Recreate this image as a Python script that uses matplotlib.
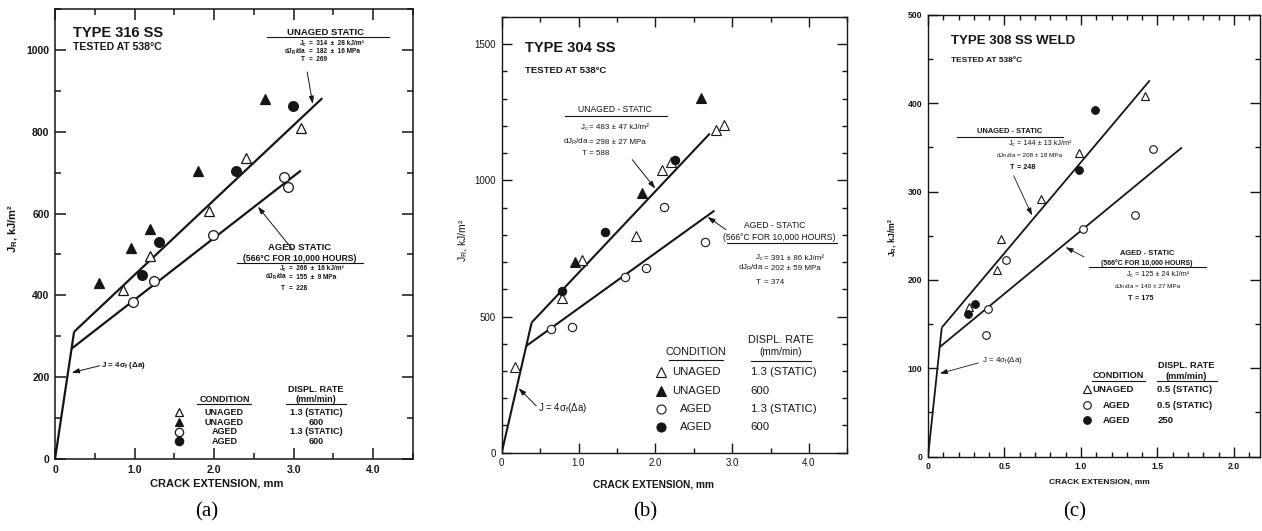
import matplotlib
matplotlib.use('Agg')
import matplotlib.pyplot as plt
from matplotlib.ticker import MultipleLocator, FixedLocator, FixedFormatter

plt.rcParams.update({
    'font.family': ['Liberation Sans', 'DejaVu Sans'],
    'mathtext.fontset': 'custom',
    'mathtext.rm': 'Liberation Sans:bold',
    'mathtext.it': 'Liberation Sans:bold',
    'mathtext.bf': 'Liberation Sans:bold',
    'mathtext.default': 'regular',
})

# ---------------- data: panel (a) Type 316 SS ----------------
a_unaged_static_x = [0.85, 1.19, 1.94, 2.40, 3.09]
a_unaged_static_y = [412, 497, 605, 736, 808]
a_unaged_600_x = [0.55, 0.95, 1.19, 1.80, 2.64]
a_unaged_600_y = [430, 516, 563, 705, 879]
a_aged_static_x = [0.98, 1.24, 1.99, 2.88, 2.93]
a_aged_static_y = [383, 434, 548, 689, 666]
a_aged_600_x = [1.09, 1.31, 2.27, 2.99]
a_aged_600_y = [451, 531, 704, 863]
a_blunt_x = [0.0, 0.24]
a_blunt_y = [0, 311]
a_unaged_fit_x = [0.24, 3.36]
a_unaged_fit_y = [311, 882]
a_aged_fit_x = [0.21, 3.09]
a_aged_fit_y = [270, 705]

# ---------------- data: panel (b) Type 304 SS ----------------
b_unaged_static_x = [0.17, 0.79, 1.04, 1.75, 2.09, 2.20, 2.79, 2.89]
b_unaged_static_y = [316, 568, 706, 797, 1039, 1068, 1186, 1202]
b_unaged_600_x = [0.95, 1.83, 2.60]
b_unaged_600_y = [702, 954, 1303]
b_aged_static_x = [0.64, 0.91, 1.61, 1.88, 2.11, 2.65]
b_aged_static_y = [453, 460, 647, 680, 904, 773]
b_aged_600_x = [0.78, 1.35, 2.25]
b_aged_600_y = [592, 812, 1076]
b_blunt_x = [0.0, 0.39]
b_blunt_y = [0, 478]
b_unaged_fit_x = [0.39, 2.71]
b_unaged_fit_y = [478, 1172]
b_aged_fit_x = [0.32, 2.77]
b_aged_fit_y = [392, 889]

# ---------------- data: panel (c) Type 308 SS weld ----------------
c_unaged_static_x = [0.27, 0.45, 0.48, 0.74, 0.99, 1.42]
c_unaged_static_y = [169, 211, 246, 292, 344, 408]
c_aged_static_x = [0.38, 0.39, 0.51, 1.01, 1.35, 1.47]
c_aged_static_y = [138, 167, 222, 258, 273, 348]
c_aged_250_x = [0.26, 0.31, 0.99, 1.09]
c_aged_250_y = [161, 173, 325, 392]
c_blunt_x = [0.0, 0.09]
c_blunt_y = [0, 146]
c_unaged_fit_x = [0.09, 1.45]
c_unaged_fit_y = [146, 426]
c_aged_fit_x = [0.077, 1.66]
c_aged_fit_y = [124, 350]

# tick labels
a_xticks = [0, 1, 2, 3, 4]
a_xticklabels = ['0', '1.0', '2.0', '3.0', '4.0']
a_yticks = [0, 200, 400, 600, 800, 1000]
b_xticks = [0, 1, 2, 3, 4]
b_xticklabels = ['0', '1.0', '2.0', '3.0', '4.0']
b_yticks = [0, 500, 1000, 1500]
c_xticks = [0, 0.5, 1.0, 1.5, 2.0]
c_xticklabels = ['0', '0.5', '1.0', '1.5', '2.0']
c_yticks = [0, 100, 200, 300, 400, 500]

INK = '#151515'
W, H = 1262, 531
fig = plt.figure(figsize=(W / 100, H / 100), dpi=100)


def add_axes(l, r, b, t):
    return fig.add_axes([l / W, 1 - b / H, (r - l) / W, (b - t) / H])


def style(ax, xlim, ylim, xt, xtl, xminor, yt, yminor, fs, weight, maj, mnr, lw):
    ax.set_xlim(*xlim)
    ax.set_ylim(*ylim)
    ax.xaxis.set_major_locator(FixedLocator(xt))
    ax.xaxis.set_major_formatter(FixedFormatter(xtl))
    ax.xaxis.set_minor_locator(MultipleLocator(xminor))
    ax.yaxis.set_major_locator(FixedLocator(yt))
    ax.yaxis.set_minor_locator(MultipleLocator(yminor))
    ax.tick_params(which='both', direction='in', top=True, right=True, colors=INK,
                   labelsize=fs, width=lw, pad=4)
    ax.tick_params(which='major', length=maj)
    ax.tick_params(which='minor', length=mnr)
    for lab in ax.get_xticklabels() + ax.get_yticklabels():
        lab.set_fontweight(weight)
    for s in ax.spines.values():
        s.set_linewidth(lw)
        s.set_color(INK)


def line(ax, x, y, lw):
    ax.plot(x, y, color=INK, lw=lw, solid_capstyle='butt', zorder=2)


def pts(ax, x, y, marker, filled, ms, mew=0.9):
    ax.plot(x, y, ls='none', marker=marker, ms=ms, mew=mew,
            mfc=INK if filled else 'white', mec=INK, zorder=3, clip_on=False)


def eq(ax, x, y, lhs, rhs, fs, weight='bold', sep=' '):
    ax.text(x, y, lhs + sep, ha='right', va='center', fontsize=fs, fontweight=weight, color=INK)
    ax.text(x, y, '=' + sep + rhs, ha='left', va='center', fontsize=fs, fontweight=weight, color=INK)


def uline(ax, x0, x1, y, lw=0.8):
    ax.plot([x0, x1], [y, y], color=INK, lw=lw, clip_on=False, zorder=2)


def arrow(ax, head, tail, lw=0.7):
    ax.annotate('', xy=head, xytext=tail,
                arrowprops=dict(arrowstyle='-|>,head_length=0.45,head_width=0.15',
                                lw=lw, color=INK, shrinkA=0, shrinkB=0))


def txt(ax, x, y, s, fs, weight='bold', ha='center', **kw):
    ax.text(x, y, s, ha=ha, va='center', fontsize=fs, fontweight=weight, color=INK, **kw)


# ======================= panel (a) =======================
axA = add_axes(55, 413, 459, 9)
style(axA, (0, 4.5), (0, 1100), a_xticks, a_xticklabels, 0.5, a_yticks, 100,
      7.5, 'bold', 8, 4.5, 1.1)
line(axA, a_blunt_x, a_blunt_y, 1.6)
line(axA, a_unaged_fit_x, a_unaged_fit_y, 1.6)
line(axA, a_aged_fit_x, a_aged_fit_y, 1.6)
pts(axA, a_unaged_static_x, a_unaged_static_y, '^', False, 7)
pts(axA, a_unaged_600_x, a_unaged_600_y, '^', True, 7)
pts(axA, a_aged_static_x, a_aged_static_y, 'o', False, 7)
pts(axA, a_aged_600_x, a_aged_600_y, 'o', True, 7)

txt(axA, 0.22, 1041, 'TYPE 316 SS', 10.5, ha='left')
txt(axA, 0.22, 1006, 'TESTED AT 538°C', 7.5, ha='left')

txt(axA, 3.40, 1042, 'UNAGED STATIC', 6.8)
uline(axA, 2.66, 4.2, 1031)
eq(axA, 3.19, 1015, 'J$_c$', '314  ±  28 kJ/m²', 4.7, sep='  ')
eq(axA, 3.19, 995, 'dJ$_R$/da', '182  ±  16 MPa', 4.7, sep='  ')
eq(axA, 3.19, 976, 'T', '269', 4.7, sep='  ')
arrow(axA, (3.24, 868), (3.17, 946))

txt(axA, 3.07, 518, 'AGED STATIC', 6.8)
txt(axA, 3.07, 490, '(566°C FOR 10,000 HOURS)', 6.2)
uline(axA, 2.29, 3.87, 478)
eq(axA, 2.94, 465, 'J$_c$', '266  ±  16 kJ/m²', 4.7, sep='  ')
eq(axA, 2.94, 444, 'dJ$_R$/da', '155  ±  9 MPa', 4.7, sep='  ')
eq(axA, 2.94, 416, 'T', '228', 4.7, sep='  ')
arrow(axA, (2.55, 617), (2.99, 511))

txt(axA, 0.58, 228, 'J = 4σ$_f$ (Δa)', 5.8, ha='left')
arrow(axA, (0.21, 211), (0.56, 228))

# legend (a)
txt(axA, 2.13, 145, 'CONDITION', 6.5)
uline(axA, 1.79, 2.46, 135)
txt(axA, 3.28, 169, 'DISPL. RATE', 6.5)
txt(axA, 3.28, 145, '(mm/min)', 6.5)
uline(axA, 2.90, 3.66, 135)
a_leg_rows = [(114, '^', False, 'UNAGED', '1.3 (STATIC)'),
              (90, '^', True, 'UNAGED', '600'),
              (66, 'o', False, 'AGED', '1.3 (STATIC)'),
              (43, 'o', True, 'AGED', '600')]
for yv, mk, fl, cond, rate in a_leg_rows:
    pts(axA, [1.56], [yv], mk, fl, 6)
    txt(axA, 2.13, yv, cond, 6.5)
    txt(axA, 3.28, yv, rate, 6.5)

axA.set_xlabel('CRACK EXTENSION, mm', fontsize=8, fontweight='bold', color=INK)
axA.xaxis.set_label_coords(0.452, -0.054, transform=axA.transAxes)
axA.xaxis.label.set_va('center')
axA.set_ylabel('J$_R$, kJ/m²', fontsize=8, fontweight='bold', color=INK)
axA.yaxis.set_label_coords(-0.116, 0.513, transform=axA.transAxes)
axA.yaxis.label.set_va('center')

# ======================= panel (b) =======================
axB = add_axes(501.7, 847.3, 452.7, 17)
style(axB, (0, 4.5), (0, 1600), b_xticks, b_xticklabels, 0.5, b_yticks, 100,
      7, 'normal', 7, 3.5, 1.0)
line(axB, b_blunt_x, b_blunt_y, 1.5)
line(axB, b_unaged_fit_x, b_unaged_fit_y, 1.5)
line(axB, b_aged_fit_x, b_aged_fit_y, 1.5)
pts(axB, b_unaged_static_x, b_unaged_static_y, '^', False, 6.5, 0.8)
pts(axB, b_unaged_600_x, b_unaged_600_y, '^', True, 6.5, 0.8)
pts(axB, b_aged_static_x, b_aged_static_y, 'o', False, 6, 0.8)
pts(axB, b_aged_600_x, b_aged_600_y, 'o', True, 6, 0.8)

txt(axB, 0.305, 1485, 'TYPE 304 SS', 10.5, ha='left')
txt(axB, 0.305, 1405, 'TESTED AT 538°C', 6.8, ha='left')

txt(axB, 1.48, 1259, 'UNAGED - STATIC', 6.2, weight='normal')
uline(axB, 0.83, 2.15, 1238)
eq(axB, 1.14, 1193, 'J$_c$', '483 ± 47 kJ/m²', 5.8, 'normal')
eq(axB, 1.14, 1140, 'dJ$_R$/da', '298 ± 27 MPa', 5.8, 'normal')
eq(axB, 1.14, 1097, 'T', '588', 5.8, 'normal')
arrow(axB, (2.0, 970), (1.70, 1076))

txt(axB, 3.55, 833, 'AGED - STATIC', 6.2, weight='normal')
txt(axB, 3.61, 790, '(566°C FOR 10,000 HOURS)', 6.2, weight='normal')
uline(axB, 2.93, 4.37, 769)
eq(axB, 3.41, 714, 'J$_c$', '391 ± 86 kJ/m²', 5.8, 'normal')
eq(axB, 3.41, 677, 'dJ$_R$/da', '202 ± 59 MPa', 5.8, 'normal')
eq(axB, 3.41, 626, 'T', '374', 5.8, 'normal')
arrow(axB, (2.68, 866), (2.92, 819))

txt(axB, 0.47, 165, 'J = 4σ$_f$(Δa)', 7, weight='normal', ha='left')
arrow(axB, (0.22, 237), (0.45, 172))

# legend (b)
txt(axB, 2.53, 371, 'CONDITION', 7.8, weight='normal')
uline(axB, 2.18, 2.88, 341)
txt(axB, 3.63, 414, 'DISPL. RATE', 7.8, weight='normal')
txt(axB, 3.63, 368, '(mm/min)', 7.2, weight='normal')
uline(axB, 3.24, 4.03, 337)
b_leg_rows = [(296, '^', False, 'UNAGED', '1.3 (STATIC)'),
              (228, '^', True, 'UNAGED', '600'),
              (161, 'o', False, 'AGED', '1.3 (STATIC)'),
              (96, 'o', True, 'AGED', '600')]
for yv, mk, fl, cond, rate in b_leg_rows:
    pts(axB, [2.07], [yv], mk, fl, 6.5, 0.8)
    txt(axB, 2.53, yv, cond, 8.2, weight='normal')
    txt(axB, 3.24, yv, rate, 8.2, weight='normal', ha='left')

axB.set_xlabel('CRACK EXTENSION, mm', fontsize=7.3, fontweight='bold', color=INK)
axB.xaxis.set_label_coords(0.439, -0.074, transform=axB.transAxes)
axB.xaxis.label.set_va('center')
axB.set_ylabel('J$_R$, kJ/m²', fontsize=7.5, fontweight='normal', color=INK)
axB.yaxis.set_label_coords(-0.111, 0.488, transform=axB.transAxes)
axB.yaxis.label.set_va('center')

# ======================= panel (c) =======================
axC = add_axes(928, 1260, 456.5, 15)
style(axC, (0, 2.17), (0, 500), c_xticks, c_xticklabels, 0.1, c_yticks, 50,
      6.2, 'bold', 7, 3.5, 1.0)
line(axC, c_blunt_x, c_blunt_y, 1.3)
line(axC, c_unaged_fit_x, c_unaged_fit_y, 1.3)
line(axC, c_aged_fit_x, c_aged_fit_y, 1.3)
pts(axC, c_unaged_static_x, c_unaged_static_y, '^', False, 6, 0.8)
pts(axC, c_aged_static_x, c_aged_static_y, 'o', False, 5.5, 0.8)
pts(axC, c_aged_250_x, c_aged_250_y, 'o', True, 5.5, 0.8)

txt(axC, 0.15, 470, 'TYPE 308 SS WELD', 9.5, ha='left')
txt(axC, 0.15, 448, 'TESTED AT 538°C', 6, ha='left')

txt(axC, 0.535, 368, 'UNAGED - STATIC', 5.4)
uline(axC, 0.19, 0.88, 362)
eq(axC, 0.58, 354, 'J$_c$', '144 ± 13 kJ/m²', 5.2, 'normal')
eq(axC, 0.58, 341, 'dJ$_R$/da', '208 ± 18 MPa', 4.6, 'normal')
eq(axC, 0.58, 327, 'T', '248', 5.2)
arrow(axC, (0.68, 273), (0.56, 318), lw=0.6)

txt(axC, 1.43, 230, 'AGED - STATIC', 5.4)
txt(axC, 1.43, 219, '(566°C FOR 10,000 HOURS)', 5.0)
uline(axC, 1.05, 1.82, 214.5)
eq(axC, 1.35, 206, 'J$_c$', '125 ± 24 kJ/m²', 5.2, 'normal')
eq(axC, 1.35, 193, 'dJ$_R$/da', '140 ± 27 MPa', 4.6, 'normal')
eq(axC, 1.35, 179, 'T', '175', 5.2)
arrow(axC, (0.90, 237), (1.02, 226), lw=0.6)

txt(axC, 0.35, 109, 'J = 4σ$_f$(Δa)', 5.8, weight='normal', ha='left')
arrow(axC, (0.077, 94), (0.33, 106), lw=0.6)

# legend (c)
txt(axC, 1.245, 92, 'CONDITION', 6.6)
uline(axC, 1.07, 1.42, 86)
txt(axC, 1.69, 103, 'DISPL. RATE', 6.6)
txt(axC, 1.69, 91, '(mm/min)', 6.6)
uline(axC, 1.50, 1.89, 86)
c_leg_rows = [(76, '^', False, 'UNAGED', 1.075, '0.5 (STATIC)'),
              (58, 'o', False, 'AGED', 1.14, '0.5 (STATIC)'),
              (41, 'o', True, 'AGED', 1.14, '250')]
for yv, mk, fl, cond, cx, rate in c_leg_rows:
    pts(axC, [1.037], [yv], mk, fl, 5.5, 0.8)
    txt(axC, cx, yv, cond, 6.8, ha='left')
    txt(axC, 1.50, yv, rate, 6.8, ha='left')

axC.set_xlabel('CRACK EXTENSION, mm', fontsize=6, fontweight='bold', color=INK)
axC.xaxis.set_label_coords(0.516, -0.058, transform=axC.transAxes)
axC.xaxis.label.set_va('center')
axC.set_ylabel('J$_R$, kJ/m²', fontsize=6.3, fontweight='bold', color=INK)
axC.yaxis.set_label_coords(-0.109, 0.497, transform=axC.transAxes)
axC.yaxis.label.set_va('center')

# panel captions
for xc, lab in [(206.7, '(a)'), (645, '(b)'), (1075, '(c)')]:
    fig.text(xc / W, 1 - 512 / H, lab, ha='center', va='center', fontsize=15,
             family=['Liberation Serif', 'DejaVu Serif'], color='black')

fig.savefig('out.png', dpi=100, facecolor='white')
